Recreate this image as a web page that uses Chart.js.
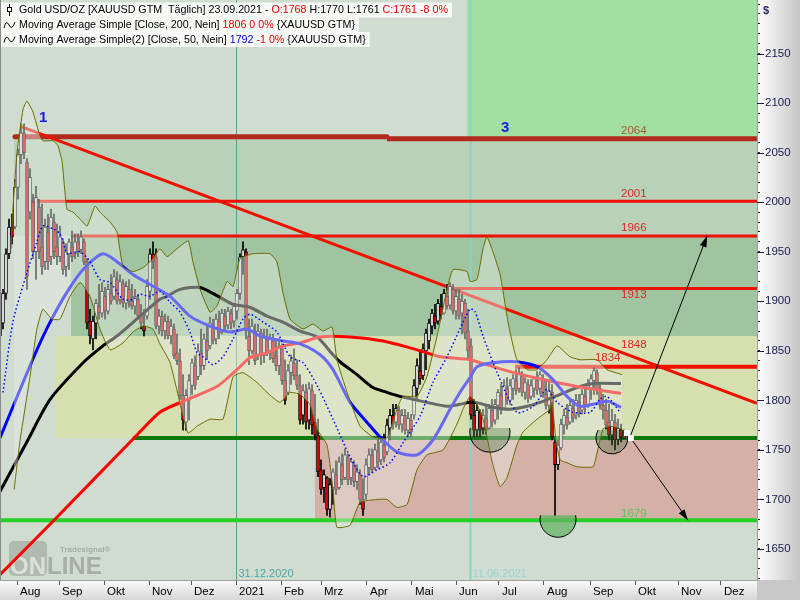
<!DOCTYPE html>
<html>
<head>
<meta charset="utf-8">
<script src="https://cdn.jsdelivr.net/npm/chart.js@4/dist/chart.umd.min.js"></script>
<style>
html, body { margin: 0; padding: 0; background: #e0e0e0; }
</style>
</head>
<body>
<canvas id="chart" width="800" height="600"></canvas>
<script>
// bar index: one bar = ~2 trading days, x axis counted in bars
var monthTicks = [5.67, 19.67, 34.67, 49.67, 63.67, 78.67, 93.67, 107, 122.33, 137.33, 152, 166.33, 181.33, 196.67, 211.67, 226, 240.33];
var monthLabels = ['Aug', 'Sep', 'Okt', 'Nov', 'Dez', '2021', 'Feb', 'Mrz', 'Apr', 'Mai', 'Jun', 'Jul', 'Aug', 'Sep', 'Okt', 'Nov', 'Dez'];
var priceLabels = [1650, 1700, 1750, 1800, 1850, 1900, 1950, 2000, 2050, 2100, 2150];

var highs = [1882,1912,1953,1983,1988,2023,2054,2079,2079,2044,
  2034,2008,2016,2003,1998,1983,1988,1993,1988,1978,
  1976,1963,1958,1963,1971,1968,1968,1971,1963,1943,
  1892,1885,1902,1917,1919,1914,1917,1927,1932,1930,
  1927,1922,1920,1922,1917,1912,1907,1897,1892,1922,
  1953,1960,1953,1892,1890,1887,1885,1882,1877,1867,
  1852,1826,1811,1826,1842,1845,1857,1872,1867,1877,
  1884,1882,1887,1890,1892,1892,1894,1892,1897,1912,
  1948,1960,1953,1882,1882,1877,1877,1872,1872,1872,
  1867,1867,1862,1862,1857,1841,1836,1846,1852,1841,
  1826,1816,1816,1818,1816,1806,1781,1740,1730,1723,
  1721,1731,1739,1743,1746,1751,1746,1741,1739,1735,
  1730,1721,1741,1751,1751,1756,1761,1761,1766,1781,
  1791,1796,1796,1794,1791,1791,1788,1786,1821,1842,
  1849,1857,1872,1882,1892,1897,1902,1907,1912,1917,
  1919,1917,1912,1912,1907,1902,1892,1862,1801,1796,
  1791,1791,1796,1796,1801,1801,1811,1816,1821,1823,
  1821,1826,1831,1833,1829,1823,1821,1821,1823,1829,
  1829,1826,1821,1821,1816,1760,1760,1781,1791,1796,
  1801,1801,1806,1806,1811,1816,1821,1826,1833,1831,
  1816,1806,1801,1796,1791,1786,1781,1776,1770];
var lows = [1862,1872,1902,1943,1958,1973,2003,2039,2044,1912,
  1983,1943,1922,1943,1927,1932,1932,1937,1943,1937,
  1940,1927,1925,1932,1940,1943,1945,1948,1937,1872,
  1857,1851,1862,1882,1884,1882,1887,1897,1902,1897,
  1897,1894,1892,1894,1892,1887,1882,1872,1865,1882,
  1902,1933,1872,1867,1865,1862,1862,1857,1842,1836,
  1801,1770,1770,1780,1806,1811,1821,1826,1831,1841,
  1852,1857,1857,1862,1867,1870,1872,1872,1874,1882,
  1902,1927,1862,1836,1847,1836,1841,1836,1838,1845,
  1841,1838,1830,1826,1816,1796,1806,1816,1821,1811,
  1776,1776,1771,1771,1766,1760,1723,1705,1697,1684,
  1682,1695,1705,1710,1715,1720,1715,1715,1713,1710,
  1695,1684,1700,1725,1727,1730,1732,1735,1738,1745,
  1760,1771,1773,1771,1768,1766,1763,1763,1781,1801,
  1816,1821,1831,1852,1867,1872,1877,1882,1887,1892,
  1892,1887,1882,1882,1867,1862,1841,1781,1763,1763,
  1763,1766,1766,1771,1773,1776,1781,1786,1791,1796,
  1796,1801,1806,1808,1804,1801,1798,1801,1803,1806,
  1806,1803,1791,1787,1760,1683,1730,1750,1766,1771,
  1776,1778,1781,1783,1786,1788,1793,1801,1806,1806,
  1791,1781,1771,1760,1755,1750,1755,1758,1761];
var opens = [1865,1878,1908,1948,1975,1975,2015,2048,2070,2040,
  1990,2000,1950,1995,1955,1940,1970,1945,1980,1955,
  1945,1960,1935,1948,1955,1948,1960,1952,1960,1940,
  1880,1862,1878,1895,1888,1905,1890,1908,1905,1922,
  1902,1918,1898,1912,1900,1895,1902,1885,1875,1885,
  1910,1948,1945,1875,1885,1870,1880,1865,1872,1848,
  1840,1805,1778,1800,1815,1835,1824,1848,1835,1860,
  1855,1875,1862,1880,1870,1885,1876,1888,1880,1890,
  1908,1945,1950,1865,1850,1870,1845,1868,1845,1862,
  1850,1860,1845,1835,1852,1820,1808,1828,1838,1825,
  1815,1785,1808,1780,1810,1778,1765,1730,1712,1722,
  1690,1712,1725,1712,1735,1722,1742,1722,1735,1718,
  1725,1700,1705,1732,1745,1732,1748,1740,1755,1748,
  1772,1785,1778,1790,1776,1785,1770,1780,1785,1812,
  1830,1825,1850,1860,1875,1885,1880,1895,1888,1905,
  1896,1912,1890,1902,1888,1898,1870,1855,1785,1770,
  1788,1772,1782,1772,1790,1780,1795,1805,1792,1812,
  1800,1812,1820,1812,1825,1808,1816,1804,1812,1820,
  1812,1822,1806,1795,1808,1758,1735,1752,1775,1783,
  1778,1792,1785,1798,1790,1804,1796,1812,1820,1828,
  1812,1795,1790,1778,1765,1778,1760,1770,1768];
var closes = [1878,1908,1948,1975,1965,2015,2048,2070,2050,1925,
  2025,1950,2005,1950,1935,1975,1940,1985,1950,1945,
  1965,1932,1950,1960,1945,1960,1950,1965,1940,1878,
  1865,1880,1898,1888,1910,1890,1912,1900,1925,1900,
  1920,1898,1915,1900,1895,1905,1885,1878,1870,1915,
  1948,1940,1875,1885,1870,1880,1865,1875,1845,1840,
  1805,1780,1805,1820,1838,1815,1850,1835,1862,1850,
  1878,1860,1882,1868,1888,1875,1890,1878,1895,1908,
  1945,1952,1870,1850,1875,1840,1870,1845,1865,1848,
  1862,1842,1835,1855,1820,1800,1830,1840,1825,1815,
  1780,1810,1778,1812,1775,1765,1728,1710,1725,1690,
  1715,1728,1710,1738,1720,1745,1720,1738,1718,1728,
  1700,1690,1735,1745,1730,1750,1738,1758,1742,1775,
  1785,1776,1792,1775,1785,1770,1782,1768,1815,1835,
  1822,1852,1868,1878,1888,1878,1898,1886,1908,1895,
  1915,1890,1905,1885,1900,1868,1850,1785,1770,1790,
  1770,1785,1770,1792,1778,1796,1808,1790,1815,1800,
  1815,1822,1810,1828,1808,1818,1802,1815,1822,1810,
  1826,1806,1795,1810,1763,1735,1755,1776,1785,1775,
  1795,1782,1800,1788,1806,1795,1815,1822,1830,1810,
  1795,1790,1775,1765,1780,1760,1772,1763,1761];

// [bar, price]
var ma200 = [[0,1624],[18,1679],[45,1763],[53.3,1788],[61,1799],[72.3,1814],[79,1831],[83.3,1843],[89,1848],[94.3,1855],[100,1858],[106.7,1864],[116.7,1864],[127.7,1860],[136.7,1853],[142.3,1848],[146.7,1844],[156.7,1841],[160,1838],[170,1829],[181,1821],[192.3,1814],[207,1807]];
var maBlack = [[0,1708],[9.3,1760],[16.7,1801],[27.7,1838],[34.3,1855],[39,1865],[46.7,1885],[53.3,1902],[55.7,1905],[60,1912],[66.7,1914],[73.3,1904],[77.7,1897],[83.3,1894],[89,1885],[94.3,1879],[100,1870],[105.7,1864],[111,1846],[113.3,1839],[119,1826],[124.3,1813],[129,1808],[133.3,1804],[142.3,1798],[149,1794],[153.3,1796],[156.7,1798],[160,1797],[164.3,1793],[170,1791],[175.7,1794],[181,1799],[186.7,1806],[192.3,1813],[197.7,1817],[207,1817]];
var ma50 = [[0,1762],[6.7,1811],[12.3,1851],[16.7,1879],[22.3,1909],[27.7,1932],[34.3,1948],[39,1940],[44.3,1927],[50,1917],[56.7,1905],[63.3,1885],[70,1875],[76.7,1869],[82.3,1872],[86.7,1865],[94.3,1860],[100,1857],[106.7,1846],[111,1831],[116.7,1798],[122.3,1778],[126.7,1763],[132.3,1748],[139,1745],[144.3,1760],[150,1791],[153.3,1808],[156.7,1823],[159,1834],[164.3,1838],[172.3,1839],[179,1834],[184.3,1821],[189,1804],[193.3,1794],[197.7,1796],[202.3,1799],[207,1793]];
var ma20 = [[1,1808],[4.3,1879],[9,1929],[12.3,1960],[14.3,1976],[17.7,1973],[20,1968],[21.7,1953],[22.3,1948],[26.7,1950],[30,1940],[33.3,1922],[36.7,1919],[41,1902],[44.3,1902],[46.7,1907],[50,1905],[53.3,1910],[56.7,1899],[60,1889],[63.3,1869],[65.7,1848],[67.7,1844],[71,1836],[74.3,1844],[77.7,1862],[81,1882],[83.3,1887],[87.7,1879],[92.3,1869],[96.7,1844],[101,1838],[105.7,1815],[111,1781],[116.7,1743],[121,1723],[125.7,1730],[130,1737],[134.3,1757],[140,1784],[144.3,1818],[149,1844],[153.3,1872],[156.7,1892],[158.3,1890],[161,1865],[165.7,1828],[172.3,1788],[177.7,1794],[182.3,1811],[185.7,1798],[191,1788],[196.7,1788],[200,1801],[202.3,1804],[206.7,1788]];
var bandUpper = [[3.7,1953],[4.3,1993],[5.7,2051],[7.7,2094],[9,2102],[11,2091],[13.3,2067],[14.3,2062],[17.7,2062],[19.3,2057],[20.7,2041],[22.3,1993],[24.3,1990],[26.7,1983],[29,1976],[31.7,1996],[33.3,1990],[36.7,1980],[39,1970],[41,1935],[44.3,1930],[47.7,1934],[51,1943],[53.3,1953],[55.7,1945],[59,1953],[62.7,1961],[64.3,1940],[66.7,1912],[70,1889],[72.3,1895],[75.7,1920],[77.7,1915],[80,1943],[84.3,1948],[90,1948],[92.3,1940],[94.3,1909],[96.7,1882],[101,1872],[104.3,1877],[107.7,1870],[110.7,1874],[112.3,1841],[115.7,1808],[120,1774],[124.3,1763],[129,1762],[132.3,1791],[134.3,1804],[139,1804],[142.3,1824],[145.7,1865],[149,1912],[151,1932],[155.7,1930],[156.7,1920],[159,1922],[161,1953],[162.3,1965],[164.3,1950],[166.7,1927],[169,1885],[170,1869],[172.3,1841],[175.7,1831],[179,1831],[182.3,1841],[185.7,1855],[190,1844],[193.3,1841],[199,1841],[202.3,1831],[207.3,1826]];
var bandLower = [[4.7,1710],[6.7,1760],[10,1824],[12.3,1872],[14.3,1892],[17.3,1882],[20,1882],[23.3,1905],[26.7,1919],[30,1905],[33.3,1872],[36.7,1851],[41,1858],[44.3,1869],[47.7,1875],[51,1872],[53.3,1857],[56.7,1838],[61,1784],[62.7,1767],[65.7,1774],[70,1781],[74.3,1781],[77.7,1824],[81,1828],[85.7,1818],[89,1808],[93.3,1798],[96.7,1808],[100,1806],[103.3,1796],[105.7,1771],[109,1755],[111,1710],[112.3,1672],[116.7,1674],[120,1697],[125.7,1700],[129,1700],[132.3,1692],[135.7,1695],[139,1730],[142.3,1745],[147.7,1750],[152.3,1776],[154.3,1791],[156.7,1804],[159,1796],[161,1781],[164.3,1735],[166.7,1713],[169,1722],[172.3,1755],[174.3,1768],[179,1781],[183.3,1791],[184,1798],[185.3,1760],[186.7,1740],[189,1737],[192.3,1733],[197.7,1733],[199,1747],[201,1771],[203.3,1774],[207.3,1771]];
var trendLine = [[7.3,2076],[252.3,1797]];
var arrowUp = [[210,1763],[235.7,1966]];
var arrowDown = [[210,1763],[229.3,1679]];

// horizontal levels
var levelPrice = [2066, 2064, 2001, 1966, 1913, 1834, 1762, 1679];
var levelFrom = [5, 129, 10.3, 23.7, 149, 171.7, 44.3, 0];
var levelTo = [129, 252.3, 252.3, 252.3, 252.3, 252.3, 252.3, 252.3];
var levelColor = ['#b22a1e', '#b22a1e', '#ee1100', '#ee1100', '#ee1100', '#ee1100', '#0a780a', '#26d026'];
var levelWidth = [5, 5, 3, 3, 3, 4, 4, 4];

var levelText = ['2064', '2001', '1966', '1913', '1848', '1834', '1679'];
var levelTextBar = [207, 207, 207, 207, 207, 198.3, 207];
var levelTextPrice = [2072, 2008, 1974, 1907, 1856, 1843, 1685];
var levelTextColor = ['#a05c38', '#e02828', '#e02828', '#e02828', '#e02828', '#e02828', '#58c858'];

// shaded zones
var zoneFrom = [155.7, 4.7, 23.7, 18.3, 105];
var zoneHigh = [2210, 2065, 1966, 1865, 1762];
var zoneLow = [2065, 1966, 1865, 1762, 1679];
var zoneColor = ['#a1e0a1', '#b9d1b9', '#9fc49f', '#d5dfb0', '#d5b0a6'];

var vlineBar = [78.67, 156.67];
var vlineText = ['31.12.2020', '11.06.2021'];

var circleBar = [163.3, 204, 186];
var circlePrice = [1768, 1762, 1680];
var circleTop = [1772, 1770, 1684];
var circleR = [6.7, 5.3, 6];

function pts(list) {
  return list.map(function (p) { return { x: p[0], y: p[1] }; });
}
function lineSet(list, color, width, order, extra) {
  var d = { type: 'line', data: pts(list), borderColor: color, borderWidth: width, pointRadius: 0, fill: false, order: order, tension: 0.25 };
  return Object.assign(d, extra || {});
}

var datasets = [];
levelPrice.forEach(function (p, k) {
  datasets.push(lineSet([[levelFrom[k], p], [levelTo[k], p]], levelColor[k], levelWidth[k], 20, { borderCapStyle: k === 0 ? 'round' : 'butt', tension: 0 }));
});
datasets.push(lineSet(trendLine, '#ee1100', 3, 19, { tension: 0 }));
datasets.push({
  type: 'bar', data: highs.map(function (h, i) { return { x: i, y: [lows[i], h] }; }),
  backgroundColor: '#000', barThickness: 1, grouped: false, order: 15
});
datasets.push({
  type: 'bar', data: opens.map(function (o, i) { return { x: i, y: [o, closes[i]] }; }),
  backgroundColor: opens.map(function (o, i) { return closes[i] >= o ? '#ffffff' : '#ff0000'; }),
  borderColor: '#000', borderWidth: 1, borderSkipped: false, barThickness: 3, grouped: false, order: 14
});
datasets.push(lineSet(maBlack, '#000000', 3, 13));
datasets.push(lineSet(ma200, '#ff0000', 3, 12));
datasets.push(lineSet(ma50, '#0000ff', 3, 11));
var upperIdx = datasets.length;
datasets.push(lineSet(bandUpper, '#6b6b00', 1, 1, { tension: 0.15 }));
datasets.push(lineSet(bandLower, '#6b6b00', 1, 2, { tension: 0.15, fill: { target: upperIdx, above: 'rgba(230,234,228,0.45)', below: 'rgba(230,234,228,0.45)' } }));
datasets.push(lineSet(ma20, '#0000ff', 1.5, 0.5, { borderDash: [1.5, 2.5] }));
var arrowIdx = [datasets.length, datasets.length + 1];
datasets.push(lineSet(arrowUp, '#000', 1, 0, { tension: 0 }));
datasets.push(lineSet(arrowDown, '#000', 1, 0, { tension: 0 }));

var FONT = 'Liberation Sans';

var decor = {
  id: 'decor',
  beforeDraw: function (chart) {
    var ctx = chart.ctx, a = chart.chartArea;
    ctx.save();
    ctx.fillStyle = '#e0e0e0';
    ctx.fillRect(0, 0, 800, 600);
    var g = ctx.createLinearGradient(a.right, 0, 800, 0);
    g.addColorStop(0, '#ffffff');
    g.addColorStop(1, '#c6c6c6');
    ctx.fillStyle = g;
    ctx.fillRect(a.right, 0, 800 - a.right, a.bottom);
    g = ctx.createLinearGradient(0, a.bottom, 0, 600);
    g.addColorStop(0, '#fbfbfb');
    g.addColorStop(1, '#d6d6d6');
    ctx.fillStyle = g;
    ctx.fillRect(0, a.bottom, a.right, 600 - a.bottom);
    ctx.fillStyle = '#c8c8c8';
    ctx.fillRect(a.right, a.bottom, 800 - a.right, 600 - a.bottom);
    ctx.fillStyle = '#d0dcd0';
    ctx.fillRect(a.left, a.top, a.right - a.left, a.bottom - a.top);
    ctx.restore();
  },
  beforeDatasetsDraw: function (chart) {
    var ctx = chart.ctx, a = chart.chartArea, x = chart.scales.x, y = chart.scales.y;
    ctx.save();
    ctx.beginPath();
    ctx.rect(a.left, a.top, a.right - a.left, a.bottom - a.top);
    ctx.clip();
    zoneFrom.forEach(function (f, k) {
      var x0 = x.getPixelForValue(f), y0 = y.getPixelForValue(zoneHigh[k]), y1 = y.getPixelForValue(zoneLow[k]);
      ctx.fillStyle = zoneColor[k];
      ctx.fillRect(x0, y0, a.right - x0, y1 - y0);
    });
    // logo
    ctx.fillStyle = 'rgba(150,160,150,0.55)';
    ctx.beginPath();
    ctx.roundRect(9, 541, 38, 35, 5);
    ctx.fill();
    ctx.font = 'bold 24px ' + FONT;
    ctx.textBaseline = 'alphabetic';
    ctx.fillStyle = 'rgba(220,226,220,0.95)';
    ctx.fillText('ON', 10, 574);
    ctx.fillStyle = 'rgba(160,170,160,0.9)';
    ctx.fillText('LINE', 47, 574);
    ctx.font = 'bold 8px ' + FONT;
    ctx.fillText('Tradesignal\u00ae', 60, 552);
    // vertical date lines
    vlineBar.forEach(function (b, k) {
      var px = Math.round(x.getPixelForValue(b)) + 0.5;
      ctx.strokeStyle = k === 0 ? '#5a9e92' : '#86d4c6';
      ctx.lineWidth = k === 0 ? 1 : 2;
      ctx.beginPath();
      ctx.moveTo(px, a.top);
      ctx.lineTo(px, a.bottom);
      ctx.stroke();
      ctx.fillStyle = k === 0 ? '#4aa8a2' : '#96d6d6';
      ctx.font = '11px ' + FONT;
      ctx.fillText(vlineText[k], px + 2, 577);
    });
    ctx.restore();
  },
  afterDatasetsDraw: function (chart) {
    var ctx = chart.ctx, a = chart.chartArea, x = chart.scales.x, y = chart.scales.y;
    ctx.save();
    ctx.beginPath();
    ctx.rect(a.left, a.top, a.right - a.left, a.bottom - a.top);
    ctx.clip();
    // half circles
    circleBar.forEach(function (cb, k) {
      var px = x.getPixelForValue(cb), py = y.getPixelForValue(circlePrice[k]);
      var r = x.getPixelForValue(cb + circleR[k]) - px;
      var dy = y.getPixelForValue(circleTop[k]) - py;
      var a0 = Math.asin(Math.max(-1, Math.min(1, dy / r)));
      ctx.beginPath();
      ctx.arc(px, py, r, a0, Math.PI - a0);
      ctx.closePath();
      ctx.fillStyle = k === 2 ? 'rgba(100,180,100,0.75)' : 'rgba(70,110,60,0.35)';
      ctx.fill();
      ctx.beginPath();
      ctx.arc(px, py, r, a0, Math.PI - a0);
      ctx.strokeStyle = '#000';
      ctx.lineWidth = 1;
      ctx.stroke();
    });
    // arrow heads
    arrowIdx.forEach(function (di) {
      var el = chart.getDatasetMeta(di).data;
      var p0 = el[0], p1 = el[el.length - 1];
      var ang = Math.atan2(p1.y - p0.y, p1.x - p0.x);
      ctx.save();
      ctx.translate(p1.x, p1.y);
      ctx.rotate(ang);
      ctx.beginPath();
      ctx.moveTo(0, 0);
      ctx.lineTo(-11, -3.5);
      ctx.lineTo(-11, 3.5);
      ctx.closePath();
      ctx.fillStyle = '#000';
      ctx.fill();
      ctx.restore();
    });
    // anchor squares
    [[209, 1767], [210.3, 1762]].forEach(function (s) {
      var px = x.getPixelForValue(s[0]), py = y.getPixelForValue(s[1]);
      ctx.fillStyle = '#fff';
      ctx.fillRect(px - 3, py - 3, 6, 6);
    });
    // level labels
    ctx.font = '11.5px ' + FONT;
    ctx.textBaseline = 'middle';
    levelText.forEach(function (t, k) {
      ctx.fillStyle = levelTextColor[k];
      ctx.fillText(t, x.getPixelForValue(levelTextBar[k]), y.getPixelForValue(levelTextPrice[k]));
    });
    ctx.font = 'bold 15px ' + FONT;
    ctx.fillStyle = '#1c1ce0';
    ctx.fillText('1', x.getPixelForValue(13), y.getPixelForValue(2085));
    ctx.fillText('3', x.getPixelForValue(167), y.getPixelForValue(2075));
    ctx.restore();
  },
  afterDraw: function (chart) {
    var ctx = chart.ctx, a = chart.chartArea, y = chart.scales.y;
    ctx.save();
    // major ticks on price axis
    ctx.strokeStyle = '#1a1a50';
    ctx.lineWidth = 1;
    priceLabels.forEach(function (v) {
      var py = Math.round(y.getPixelForValue(v)) + 0.5;
      ctx.beginPath();
      ctx.moveTo(a.right, py);
      ctx.lineTo(a.right + 7, py);
      ctx.stroke();
    });
    ctx.fillStyle = '#2a2a6a';
    ctx.font = 'bold 11px ' + FONT;
    ctx.textBaseline = 'middle';
    ctx.fillText('$', a.right + 6, 11);

    // legend block
    var rows = [
      [['Gold USD/OZ [XAUUSD GTM  T\u00e4glich] 23.09.2021 - ', '#000'], ['O:1768', '#e00000'], [' H:1770 L:1761 ', '#000'], ['C:1761 -8 0%', '#e00000']],
      [['Moving Average Simple [Close, 200, Nein] ', '#000'], ['1806 0 0%', '#e00000'], [' {XAUUSD GTM}', '#000']],
      [['Moving Average Simple(2) [Close, 50, Nein] ', '#000'], ['1792', '#0000e0'], [' -1 0%', '#e00000'], [' {XAUUSD GTM}', '#000']]
    ];
    ctx.font = '12px ' + FONT;
    var full = rows[0].map(function (r) { return r[0]; }).join('');
    var size = 12 * 429 / ctx.measureText(full).width;
    ctx.font = size.toFixed(2) + 'px ' + FONT;
    var rowY = [10, 25, 39.5];
    rows.forEach(function (row, k) {
      var w = ctx.measureText(row.map(function (r) { return r[0]; }).join('')).width;
      ctx.fillStyle = 'rgba(255,255,255,0.82)';
      ctx.fillRect(0, rowY[k] - 7.5, 19 + w + 4, 15);
      var tx = 19;
      row.forEach(function (r) {
        ctx.fillStyle = r[1];
        ctx.fillText(r[0], tx, rowY[k] + 0.5);
        tx += ctx.measureText(r[0]).width;
      });
      ctx.strokeStyle = '#000';
      ctx.lineWidth = 1;
      if (k === 0) {
        ctx.beginPath();
        ctx.moveTo(9.5, rowY[k] - 6);
        ctx.lineTo(9.5, rowY[k] + 6);
        ctx.stroke();
        ctx.fillStyle = '#fff';
        ctx.fillRect(7, rowY[k] - 3, 5, 5);
        ctx.strokeRect(7.5, rowY[k] - 2.5, 4, 4);
      } else {
        ctx.beginPath();
        ctx.moveTo(4, rowY[k] + 3);
        ctx.quadraticCurveTo(6, rowY[k] - 6, 9, rowY[k]);
        ctx.quadraticCurveTo(12, rowY[k] + 6, 15, rowY[k] - 3);
        ctx.stroke();
      }
    });
    // plot left border
    ctx.strokeStyle = '#8a8a8a';
    ctx.beginPath();
    ctx.moveTo(0.5, 0);
    ctx.lineTo(0.5, a.bottom);
    ctx.stroke();
    ctx.restore();
  }
};

new Chart(document.getElementById('chart'), {
  type: 'line',
  data: { datasets: datasets },
  plugins: [decor],
  options: {
    responsive: false,
    animation: false,
    events: [],
    layout: { padding: 0 },
    plugins: { legend: { display: false }, tooltip: { enabled: false } },
    scales: {
      x: {
        type: 'linear', position: 'bottom', min: 0, max: 252.33, offset: false,
        afterBuildTicks: function (s) { s.ticks = monthTicks.map(function (v) { return { value: v }; }); },
        afterFit: function (s) { s.height = 20; s.paddingLeft = 0; s.paddingRight = 0; },
        ticks: {
          autoSkip: false, maxRotation: 0, align: 'start', labelOffset: 3, padding: 0,
          color: '#000', font: { family: FONT, size: 11.5 },
          callback: function (v, i) { return monthLabels[i]; }
        },
        grid: { display: true, offset: false, drawOnChartArea: false, drawTicks: true, tickLength: 5, color: '#555' },
        border: { display: true, color: '#a0a0a0' }
      },
      y: {
        type: 'linear', position: 'right', min: 1618.7, max: 2204.1, offset: false,
        afterBuildTicks: function (s) {
          var t = [];
          for (var v = 1620; v <= 2200; v += 10) t.push({ value: v });
          s.ticks = t;
        },
        afterFit: function (s) { s.width = 43; s.paddingTop = 0; s.paddingBottom = 0; },
        ticks: {
          autoSkip: false, padding: 5, color: '#1a1a50', font: { family: FONT, size: 11.5 },
          callback: function (v) { return priceLabels.indexOf(v) >= 0 ? String(v) : ''; }
        },
        grid: { display: true, drawOnChartArea: false, drawTicks: true, tickLength: 3, color: '#222' },
        border: { display: true, color: '#a0a0a0' }
      }
    }
  }
});
</script>
</body>
</html>
